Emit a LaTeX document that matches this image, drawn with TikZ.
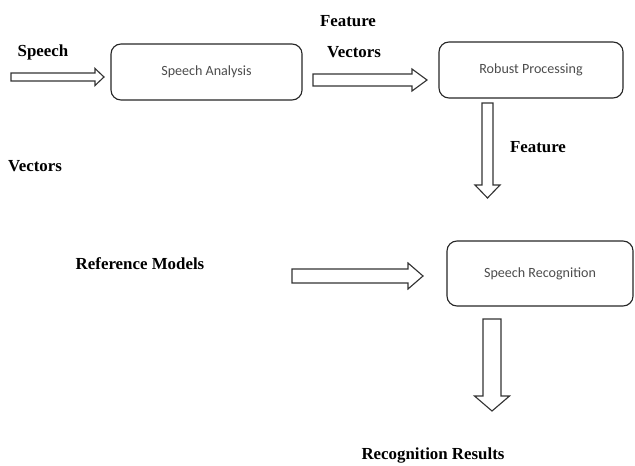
\documentclass[tikz,border=0pt]{standalone}
\usepackage{fontspec}
\setmainfont{Liberation Serif}
\newfontfamily\boxfont{Carlito}
\usepackage{tikz}
\usetikzlibrary{calc}

% hollow block arrows: start, tip, shaft half width, head half width, head length
\newcommand{\harrow}[5]{
	\draw[arrowline] ($(#1)+(0,-#3)$) -- ($(#2)+(-#5,-#3)$) -- ($(#2)+(-#5,-#4)$) -- (#2)
		-- ($(#2)+(-#5,#4)$) -- ($(#2)+(-#5,#3)$) -- ($(#1)+(0,#3)$) -- cycle;
}
\newcommand{\varrow}[5]{
	\draw[arrowline] ($(#1)+(-#3,0)$) -- ($(#2)+(-#3,-#5)$) -- ($(#2)+(-#4,-#5)$) -- (#2)
		-- ($(#2)+(#4,-#5)$) -- ($(#2)+(#3,-#5)$) -- ($(#1)+(#3,0)$) -- cycle;
}

\begin{document}
\begin{tikzpicture}[x=0.025cm, y=-0.025cm,
		mybox/.style={draw=black!85, rounded corners=0.25cm, line width=0.8pt, align=center, font=\boxfont\fontsize{10}{12}\selectfont, text=black!70},
		mylabel/.style={font=\bfseries\fontsize{12}{14}\selectfont, inner sep=0pt},
		arrowline/.style={draw=black!80, line width=0.8pt, line join=miter}
	]
	\useasboundingbox (0,0) rectangle (635,465);

	% boxes
	\node[mybox, minimum width=4.775cm, minimum height=1.4cm] (ana) at (206.5,72) {Speech Analysis};
	\node[mybox, minimum width=4.6cm, minimum height=1.4cm] (rob) at (531,70) {Robust Processing};
	\node[mybox, minimum width=4.65cm, minimum height=1.625cm] (rec) at (540,273.5) {Speech Recognition};

	% labels
	\node[mylabel] (speech) at (43,52) {Speech};
	\node[mylabel] (feat1) at (348,21) {Feature};
	\node[mylabel] (vec1) at (354,52) {Vectors};
	\node[mylabel] (feat2) at (538,147) {Feature};
	\node[mylabel] (vec2) at (35,166) {Vectors};
	\node[mylabel] (refmod) at (140,264) {Reference Models};
	\node[mylabel] (result) at (433,456) {Recognition Results};

	% arrow ends
	\coordinate (a1s) at (11,77);
	\coordinate (a1t) at (104,77);
	\coordinate (a2s) at (313,80);
	\coordinate (a2t) at (427,80);
	\coordinate (a3s) at (487.5,103);
	\coordinate (a3t) at (487.5,198);
	\coordinate (a4s) at (292,276);
	\coordinate (a4t) at (423,276);
	\coordinate (a5s) at (492,319);
	\coordinate (a5t) at (492,411);

	\harrow{a1s}{a1t}{4}{8.5}{9}
	\harrow{a2s}{a2t}{6}{11}{15}
	\varrow{a3s}{a3t}{5.5}{12.5}{13}
	\harrow{a4s}{a4t}{7}{13}{15}
	\varrow{a5s}{a5t}{9}{17.5}{15}
\end{tikzpicture}
\end{document}
